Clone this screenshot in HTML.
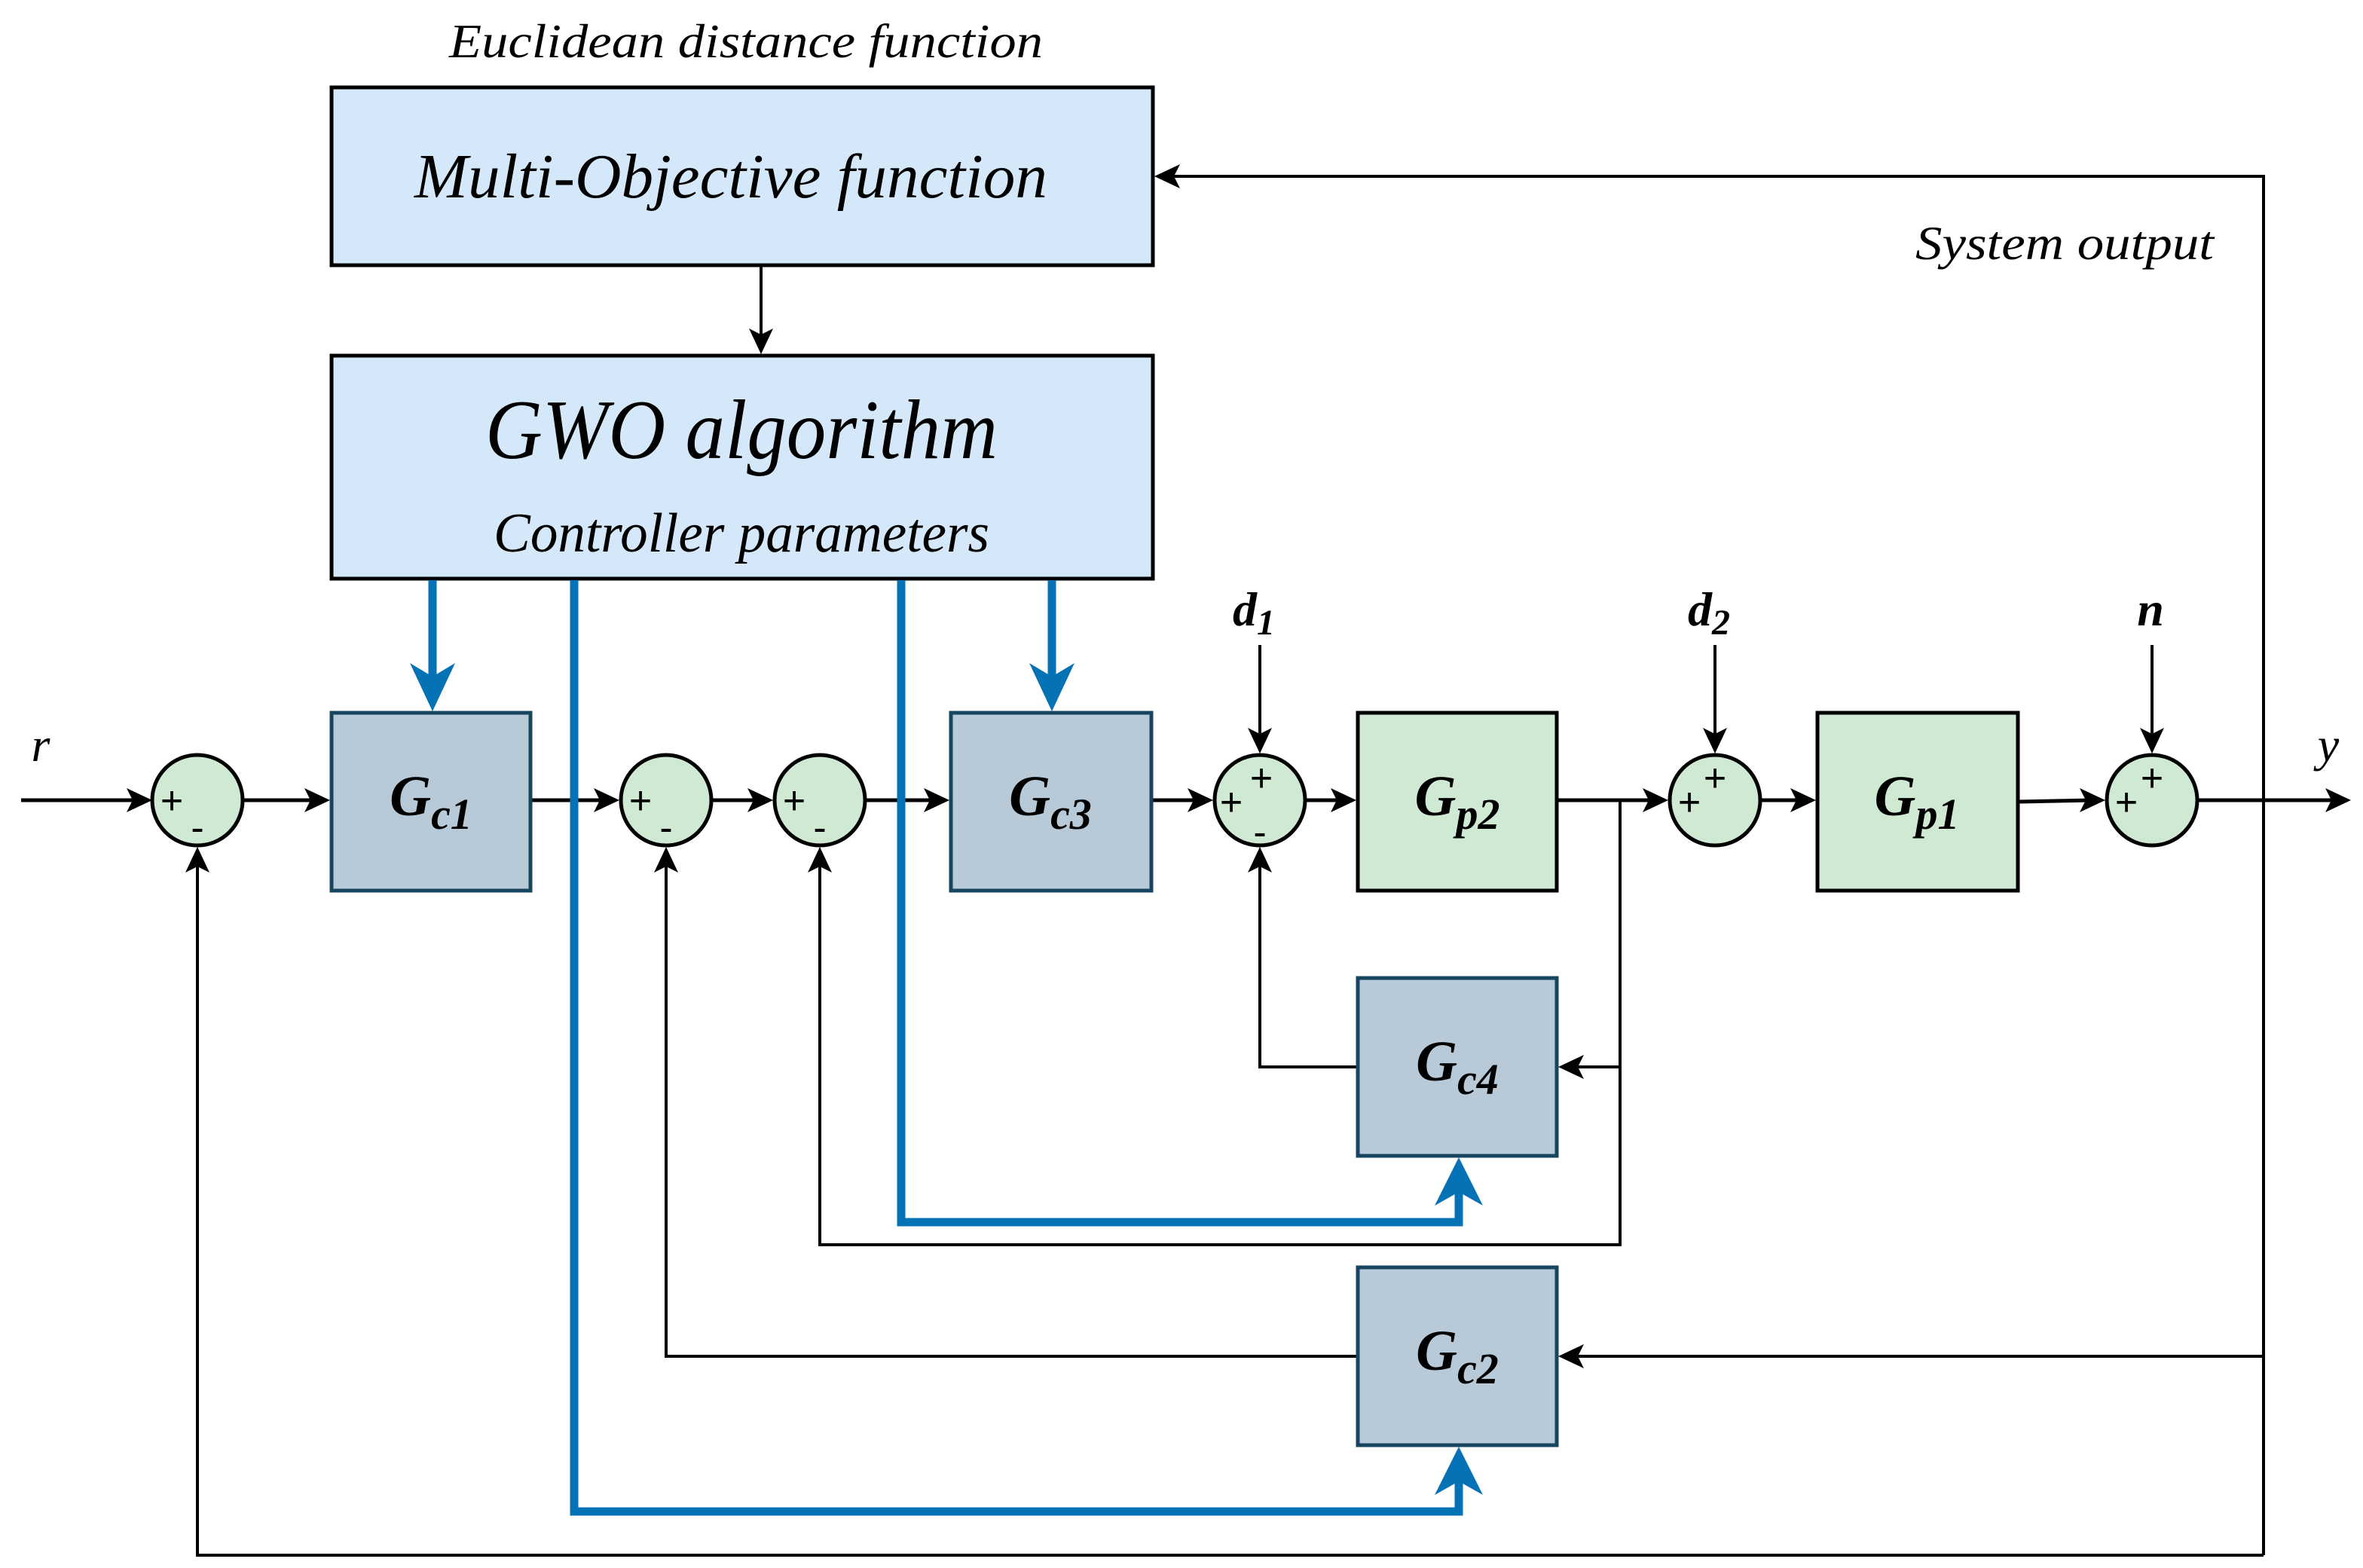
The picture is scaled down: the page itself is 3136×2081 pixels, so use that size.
<!DOCTYPE html>
<html><head><meta charset="utf-8"><style>html,body{margin:0;padding:0;background:#fff}svg{display:block}text{font-family:"Liberation Serif",serif}.s{font-family:"Liberation Sans",sans-serif}</style></head>
<body>
<svg width="3136" height="2081" viewBox="0 0 1568 1040.5" xmlns="http://www.w3.org/2000/svg">
<!-- top labels -->
<text x="495" y="38" font-size="32" font-style="italic" text-anchor="middle" textLength="394" lengthAdjust="spacingAndGlyphs">Euclidean distance function</text>
<rect x="220" y="58" width="545" height="118" fill="#d5e8fa" stroke="#000" stroke-width="2.5"/>
<text x="485" y="131" font-size="42" font-style="italic" text-anchor="middle" textLength="420" lengthAdjust="spacingAndGlyphs">Multi-Objective function</text>
<line x1="505" y1="176" x2="505" y2="225" stroke="#000" stroke-width="2"/>
<rect x="220" y="236" width="545" height="148" fill="#d5e8fa" stroke="#000" stroke-width="2.5"/>
<text x="492" y="304" font-size="56" font-style="italic" text-anchor="middle" textLength="340" lengthAdjust="spacingAndGlyphs">GWO algorithm</text>
<text x="492" y="366" font-size="37" font-style="italic" text-anchor="middle" textLength="329" lengthAdjust="spacingAndGlyphs">Controller parameters</text>
<text x="1370" y="172" font-size="32" font-style="italic" text-anchor="middle" textLength="198" lengthAdjust="spacingAndGlyphs">System output</text>

<!-- feedback black lines -->
<g fill="none" stroke="#000" stroke-width="2">
<polyline points="1502,1032 1502,117 776,117"/>
<polyline points="1502,1032 131,1032 131,572"/>
<line x1="1502" y1="900" x2="1044" y2="900"/>
<polyline points="901,900 442,900 442,572"/>
<polyline points="1075,531 1075,826 544,826 544,572"/>
<line x1="1075" y1="708" x2="1044" y2="708"/>
<polyline points="901,708 836,708 836,572"/>
<line x1="836" y1="428" x2="836" y2="490"/>
<line x1="1138" y1="428" x2="1138" y2="490"/>
<line x1="1428" y1="428" x2="1428" y2="490"/>
</g>
<!-- main line -->
<g fill="none" stroke="#000" stroke-width="2.5">
<line x1="14" y1="531" x2="92" y2="531"/>
<line x1="161" y1="531" x2="210" y2="531"/>
<line x1="353" y1="531" x2="402" y2="531"/>
<line x1="472" y1="531" x2="504" y2="531"/>
<line x1="574" y1="531" x2="621" y2="531"/>
<line x1="765" y1="531" x2="796" y2="531"/>
<line x1="866" y1="531" x2="891" y2="531"/>
<line x1="1034" y1="531" x2="1098" y2="531"/>
<line x1="1168" y1="531" x2="1196" y2="531"/>
<line x1="1340" y1="532" x2="1388" y2="531"/>
<line x1="1458" y1="531" x2="1550" y2="531"/>
</g>
<!-- black arrowheads -->
<g fill="#000">
<!-- right -->
<path d="M101,531 l-17,-8 l4,8 l-4,8z"/>
<path d="M219,531 l-17,-8 l4,8 l-4,8z"/>
<path d="M411,531 l-17,-8 l4,8 l-4,8z"/>
<path d="M513,531 l-17,-8 l4,8 l-4,8z"/>
<path d="M630,531 l-17,-8 l4,8 l-4,8z"/>
<path d="M805,531 l-17,-8 l4,8 l-4,8z"/>
<path d="M900,531 l-17,-8 l4,8 l-4,8z"/>
<path d="M1107,531 l-17,-8 l4,8 l-4,8z"/>
<path d="M1205,531 l-17,-8 l4,8 l-4,8z"/>
<path d="M1397,531 l-17,-8 l4,8 l-4,8z"/>
<path d="M1560,531 l-17,-8 l4,8 l-4,8z"/>
<!-- left -->
<path d="M766,117 l17,-8 l-4,8 l4,8z"/>
<path d="M1034,900 l17,-8 l-4,8 l4,8z"/>
<path d="M1034,708 l17,-8 l-4,8 l4,8z"/>
<!-- up -->
<path d="M131,562 l-8,17 l8,-4 l8,4z"/>
<path d="M442,562 l-8,17 l8,-4 l8,4z"/>
<path d="M544,562 l-8,17 l8,-4 l8,4z"/>
<path d="M836,562 l-8,17 l8,-4 l8,4z"/>
<!-- down -->
<path d="M505,235 l-8,-17 l8,4 l8,-4z"/>
<path d="M836,500 l-8,-17 l8,4 l8,-4z"/>
<path d="M1138,500 l-8,-17 l8,4 l8,-4z"/>
<path d="M1428,500 l-8,-17 l8,4 l8,-4z"/>
</g>
<!-- blue lines -->
<g fill="none" stroke="#0572b5" stroke-width="5.5">
<line x1="287" y1="385" x2="287" y2="450"/>
<line x1="698" y1="385" x2="698" y2="450"/>
<polyline points="381,385 381,1003 968,1003 968,980"/>
<polyline points="598,385 598,811 968,811 968,788"/>
</g>
<g fill="#0572b5">
<path d="M287,472 l-15,-32 l15,9 l15,-9z"/>
<path d="M698,472 l-15,-32 l15,9 l15,-9z"/>
<path d="M968,960 l-16,32 l16,-9 l16,9z"/>
<path d="M968,768 l-16,32 l16,-9 l16,9z"/>
</g>
<!-- blocks -->
<g stroke="#17445f" stroke-width="2.5" fill="#b8cad8">
<rect x="220" y="473" width="132" height="118"/>
<rect x="631" y="473" width="133" height="118"/>
<rect x="901" y="649" width="132" height="118"/>
<rect x="901" y="841" width="132" height="118"/>
</g>
<g stroke="#000" stroke-width="2.5" fill="#cfe9d3">
<rect x="901" y="473" width="132" height="118"/>
<rect x="1206" y="473" width="133" height="118"/>
</g>
<g font-size="38" font-style="italic" font-weight="bold" text-anchor="middle">
<text x="286" y="541">G<tspan font-size="29" dy="9">c1</tspan></text>
<text x="697" y="541">G<tspan font-size="29" dy="9">c3</tspan></text>
<text x="967" y="541">G<tspan font-size="29" dy="9">p2</tspan></text>
<text x="1272" y="541">G<tspan font-size="29" dy="9">p1</tspan></text>
<text x="967" y="717">G<tspan font-size="29" dy="9">c4</tspan></text>
<text x="967" y="909">G<tspan font-size="29" dy="9">c2</tspan></text>
</g>
<!-- summers -->
<g stroke="#000" stroke-width="2.5" fill="#cfe9d3">
<circle cx="131" cy="531" r="30"/><circle cx="442" cy="531" r="30"/><circle cx="544" cy="531" r="30"/>
<circle cx="836" cy="531" r="30"/><circle cx="1138" cy="531" r="30"/><circle cx="1428" cy="531" r="30"/>
</g>
<g class="s" font-size="26" text-anchor="middle">
<text class="s" x="114" y="540">+</text><text class="s" x="131" y="558">-</text>
<text class="s" x="425" y="540">+</text><text class="s" x="442" y="558">-</text>
<text class="s" x="527" y="540">+</text><text class="s" x="544" y="558">-</text>
<text class="s" x="817" y="541">+</text><text class="s" x="837" y="525">+</text><text class="s" x="836" y="561">-</text>
<text class="s" x="1121" y="541">+</text><text class="s" x="1138" y="525">+</text>
<text class="s" x="1411" y="541">+</text><text class="s" x="1428" y="525">+</text>
</g>
<g font-size="32" font-style="italic" text-anchor="middle">
<text x="27" y="505">r</text>
<text x="1545" y="505">y</text>
<text x="832" y="415" font-weight="bold">d<tspan font-size="24" dy="6">1</tspan></text>
<text x="1134" y="415" font-weight="bold">d<tspan font-size="24" dy="6">2</tspan></text>
<text x="1427" y="415" font-weight="bold">n</text>
</g>
</svg>
</body></html>
